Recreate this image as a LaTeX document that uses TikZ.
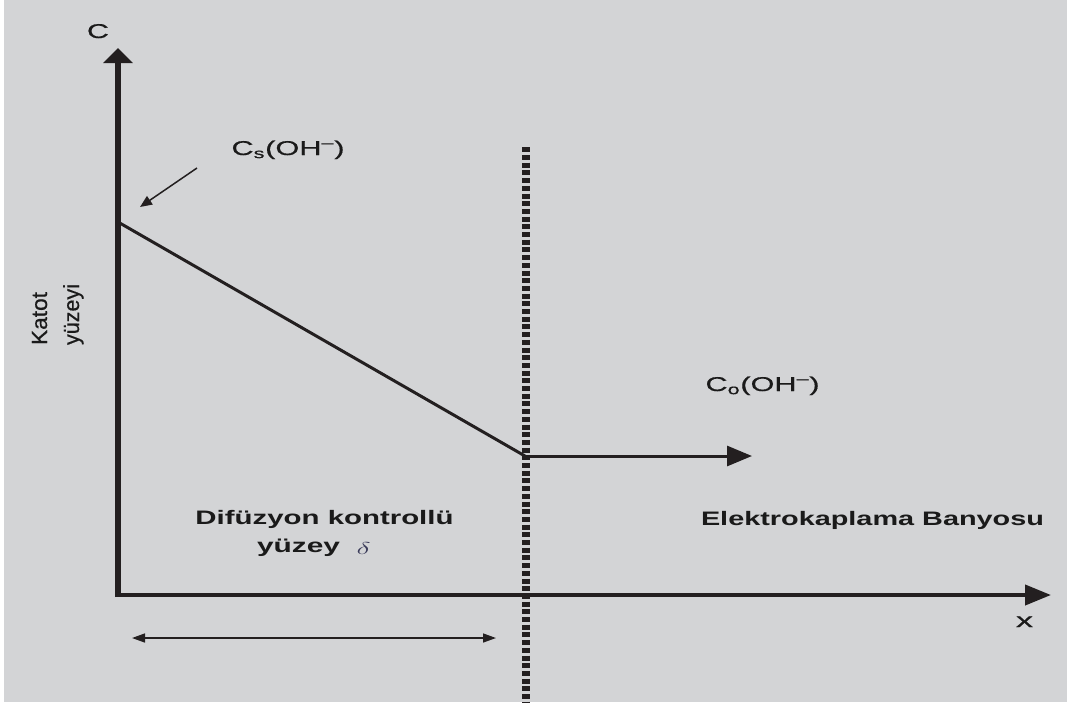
\documentclass[tikz,border=0pt]{standalone}
\usepackage{fontspec}
\usepackage{graphicx}
\setmainfont{Liberation Sans}
\newfontfamily\regfont[FakeBold=0.5]{Liberation Sans}
\usetikzlibrary{arrows.meta}
\definecolor{bgc}{HTML}{D3D4D6}
\definecolor{ink}{HTML}{231F20}
\definecolor{txt}{HTML}{1A1A1A}
\definecolor{dcol}{HTML}{3A3B5A}
\newcommand{\fitw}[2]{\resizebox{#1}{\height}{#2}}
\tikzset{
  lbl/.style={inner sep=0pt, outer sep=0pt, text=txt, font=\regfont\fontsize{20}{22}\selectfont, anchor=base},
  blbl/.style={lbl, font=\fontsize{19.5}{21}\selectfont\bfseries},
  rlbl/.style={lbl, anchor=base west, rotate=90, font=\regfont\fontsize{22}{24}\selectfont},
  axis/.style={draw=ink, line width=#1},
  thin/.style={draw=ink, line width=1.5pt},
}
\begin{document}
\begin{tikzpicture}[x=1pt,y=-1pt]
\fill[white] (0,0) rectangle (1067,702);
\fill[bgc] (4,0) rectangle (1067,702);
\useasboundingbox (0,0) rectangle (1067,702);
% coordinates
\coordinate (O) at (118,597);
\coordinate (Ox) at (115,595);
\coordinate (ytip) at (118,48);
\coordinate (xtip) at (1051,595);
\coordinate (d0) at (118,222);
\coordinate (d1) at (525,456);
\coordinate (htip) at (752,456);
\coordinate (vtop) at (526,147.3);
\coordinate (vbot) at (526,702);
\coordinate (s0) at (197,168);
\coordinate (s1) at (140,207);
\coordinate (da) at (132,638);
\coordinate (db) at (496,638);
% dashed boundary
\draw[draw=ink, line width=8pt, dash pattern=on 5pt off 2.7pt] (vtop) -- (vbot);
% axes
\draw[axis=6pt, -{Triangle[length=15pt,width=29pt]}] (O) -- (ytip);
\draw[axis=4pt, -{Triangle[length=26pt,width=20pt]}] (Ox) -- (xtip);
% concentration profile
\draw[axis=3pt] (d0) -- (d1);
\draw[axis=3pt, -{Triangle[length=25pt,width=20pt]}] (d1) -- (htip);
% small arrow
\draw[thin, -{Triangle[length=12pt,width=10pt]}] (s0) -- (s1);
% double arrow
\draw[thin, {Triangle[length=13pt,width=9pt]}-{Triangle[length=13pt,width=9pt]}] (da) -- (db);
% labels
\node[lbl] (lC) at (98,38) {\fitw{22pt}{C}};
\node[lbl] (lCs) at (288,155) {\fitw{113pt}{C\textsubscript{s}(OH\textsuperscript{–})}};
\node[lbl] (lCo) at (762.5,391) {\fitw{114pt}{C\textsubscript{o}(OH\textsuperscript{–})}};
\node[lbl] (lx) at (1024.5,627) {\fitw{17pt}{x}};
\node[blbl] (ldif) at (324.5,524) {\fitw{258pt}{Difüzyon kontrollü}};
\node[blbl] (lyuz) at (298.5,552) {\fitw{83pt}{yüzey}};
\node[inner sep=0pt, text=dcol, font=\fontsize{19}{21}\selectfont] (ldelta) at (363.5,548.5) {\fitw{14pt}{$\delta$}};
\node[blbl, anchor=base west] (lel) at (701,525) {\fitw{343pt}{Elektrokaplama Banyosu}};
\node[rlbl] (lkat) at (47,345) {\fitw{53pt}{Katot}};
\node[rlbl] (lyz) at (79,345) {\fitw{61pt}{yüzeyi}};
\end{tikzpicture}
\end{document}
